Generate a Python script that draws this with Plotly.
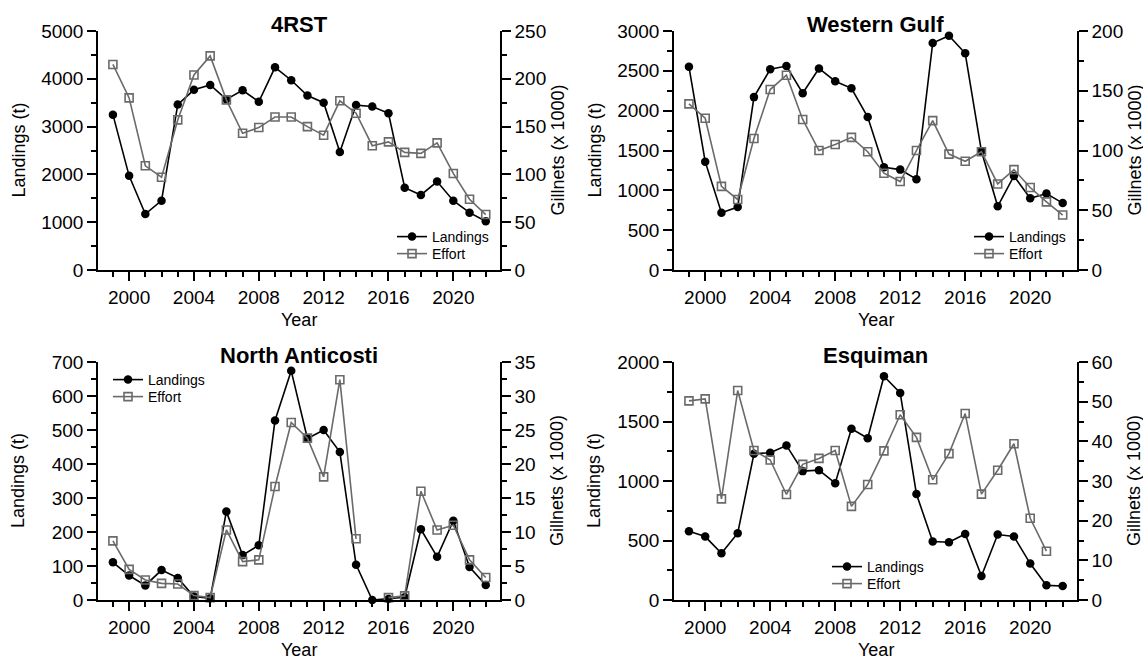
import plotly.graph_objects as go

# ---------------- data ----------------
years = list(range(1999, 2023))

rst_landings = [3250, 1970, 1170, 1450, 3460, 3770, 3870, 3570, 3760, 3520, 4240, 3970,
                3650, 3500, 2470, 3450, 3420, 3280, 1720, 1570, 1850, 1450, 1200, 1020]
rst_effort = [215, 180, 109, 97, 157, 204, 224, 178, 143, 149, 160, 160,
              150, 141, 177, 164, 130, 134, 123, 122, 133, 101, 74, 58]

wg_landings = [2550, 1360, 720, 790, 2170, 2520, 2560, 2220, 2530, 2370, 2280, 1920,
               1290, 1260, 1140, 2850, 2940, 2720, 1490, 800, 1180, 900, 960, 840]
wg_effort = [139, 127, 70, 59, 110, 151, 163, 126, 100, 105, 111, 99,
             81, 74, 100, 125, 97, 91, 99, 72, 84, 69, 57, 46]

na_landings = [111, 72, 43, 88, 65, 10, 5, 260, 132, 161, 528, 674,
               475, 500, 435, 104, 0, 3, 8, 208, 127, 233, 97, 44]
na_effort = [8.7, 4.5, 2.95, 2.45, 2.35, 0.65, 0.35, 10.3, 5.65, 5.9, 16.7, 26.1,
             23.8, 18.1, 32.4, 9.0, None, 0.35, 0.6, 16.0, 10.3, 11.0, 5.9, 3.3]

es_landings = [578, 533, 393, 561, 1229, 1237, 1299, 1083, 1091, 982, 1439, 1360,
               1880, 1740, 890, 491, 485, 555, 202, 550, 533, 306, 123, 118]
es_effort = [50.2, 50.7, 25.5, 52.8, 37.7, 35.3, 26.6, 34.2, 35.7, 37.7, 23.6, 29.1,
             37.6, 46.7, 41.0, 30.3, 36.9, 47.0, 26.7, 32.7, 39.4, 20.6, 12.3, None]

titles = ["4RST", "Western Gulf", "North Anticosti", "Esquiman"]
left_max = [5000, 3000, 700, 2000]
left_dtick = [1000, 500, 100, 500]
right_max = [250, 200, 35, 60]
right_dtick = [50, 50, 5, 10]

# ---------------- layout geometry ----------------
W, H = 1143, 660
ML, MR, MT, MB = 98, 66, 31, 60
PW, PH = W - ML - MR, H - MT - MB


def fx(px):
    return (px - ML) / PW


def fy(py):
    return (H - MB - py) / PH


FONT = "Liberation Sans, Arial, sans-serif"
GRAY = "#6a6a6a"
TICKSIZE = 19

xdom = [[fx(98), fx(500)], [fx(674), fx(1077)], [fx(98), fx(500)], [fx(674), fx(1077)]]
ydom = [[fy(270), fy(31)], [fy(270), fy(31)], [fy(600), fy(362)], [fy(600), fy(362)]]

# legend: left x of legend box, centre y of first row, centre y of second row
legend_pos = [(392, 237, 254), (969, 237, 254), (108, 380, 397), (827, 567, 584)]

landings = [rst_landings, wg_landings, na_landings, es_landings]
efforts = [rst_effort, wg_effort, na_effort, es_effort]

fig = go.Figure()
layout = dict(
    width=W, height=H,
    margin=dict(l=ML, r=MR, t=MT, b=MB),
    paper_bgcolor="white", plot_bgcolor="white",
    font=dict(family=FONT, color="black", size=18),
    showlegend=True,
)
annotations = []

for i in range(4):
    n = i + 1
    xa = "x" if n == 1 else f"x{n}"
    yl = "y" if n == 1 else f"y{n}"
    yr = f"y{n + 4}"
    lg_a = "legend" if n == 1 else f"legend{2 * n - 1}"
    lg_b = f"legend{2 * n}"

    fig.add_trace(go.Scatter(
        x=years, y=landings[i], name="Landings", xaxis=xa, yaxis=yl, legend=lg_a,
        mode="lines+markers", line=dict(color="black", width=1.6),
        marker=dict(symbol="circle", size=8.5, color="black"), cliponaxis=False,
    ))
    fig.add_trace(go.Scatter(
        x=years, y=efforts[i], name="Effort", xaxis=xa, yaxis=yr, legend=lg_b,
        mode="lines+markers", line=dict(color=GRAY, width=1.6),
        marker=dict(symbol="square-open", size=8, color=GRAY, line=dict(width=1.6, color=GRAY)),
        cliponaxis=False,
    ))

    axis_common = dict(showgrid=False, zeroline=False, showline=True, linecolor="black",
                       linewidth=1.5, ticks="outside", tickwidth=1.5, ticklen=9,
                       tickcolor="black", tickfont=dict(size=TICKSIZE, family=FONT, color="black"))

    layout["xaxis" if n == 1 else f"xaxis{n}"] = dict(
        domain=xdom[i], anchor=yl, range=[1998.08, 2022.88],
        tickmode="linear", tick0=2000, dtick=4,
        minor=dict(dtick=1, ticklen=5, tickwidth=1.5, tickcolor="black", ticks="outside", showgrid=False),
        **axis_common)
    layout["yaxis" if n == 1 else f"yaxis{n}"] = dict(
        domain=ydom[i], anchor=xa, range=[0, left_max[i]], side="left",
        tickmode="linear", tick0=0, dtick=left_dtick[i],
        minor=dict(dtick=left_dtick[i] / 2, ticklen=5, tickwidth=1.5, tickcolor="black", ticks="outside", showgrid=False),
        **axis_common)
    layout[f"yaxis{n + 4}"] = dict(
        domain=ydom[i], anchor=xa, overlaying=yl, range=[0, right_max[i]], side="right",
        tickmode="linear", tick0=0, dtick=right_dtick[i],
        minor=dict(dtick=right_dtick[i] / 2, ticklen=5, tickwidth=1.5, tickcolor="black", ticks="outside", showgrid=False),
        **axis_common)

    lx, ly1, ly2 = legend_pos[i]
    for lg, ly in ((lg_a, ly1), (lg_b, ly2)):
        layout[lg] = dict(x=fx(lx), y=fy(ly), xanchor="left", yanchor="middle",
                          bgcolor="rgba(0,0,0,0)", borderwidth=0,
                          font=dict(size=14, family=FONT, color="black"),
                          itemwidth=30, tracegroupgap=0)

    # titles & axis titles
    x0, x1 = xdom[i]
    y0, y1 = ydom[i]
    xc = (x0 + x1) / 2
    yc = (y0 + y1) / 2
    annotations.append(dict(text=f"<b>{titles[i]}</b>", x=xc, y=y1, xref="paper", yref="paper",
                            xanchor="center", yanchor="middle", yshift=7, showarrow=False,
                            font=dict(size=22, family=FONT, color="black")))
    annotations.append(dict(text="Landings (t)", x=x0, y=yc, xref="paper", yref="paper",
                            xanchor="center", yanchor="middle", xshift=-80, textangle=-90,
                            showarrow=False, font=dict(size=18, family=FONT, color="black")))
    annotations.append(dict(text="Gillnets (x 1000)", x=x1, y=yc, xref="paper", yref="paper",
                            xanchor="center", yanchor="middle", xshift=57, textangle=-90,
                            showarrow=False, font=dict(size=18, family=FONT, color="black")))
    annotations.append(dict(text="Year", x=xc, y=y0, xref="paper", yref="paper",
                            xanchor="center", yanchor="middle", yshift=-50,
                            showarrow=False, font=dict(size=18, family=FONT, color="black")))

layout["annotations"] = annotations
fig.update_layout(**layout)
fig.write_html("out.html")
